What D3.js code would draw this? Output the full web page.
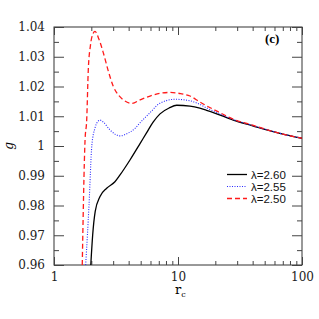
<!DOCTYPE html>
<html>
<head>
<meta charset="utf-8">
<script src="https://cdn.jsdelivr.net/npm/d3@7"></script>
<style>
  body { margin: 0; background: #fff; }
  #figure { width: 319px; height: 319px; }
  .tk text { font-family: "DejaVu Serif", serif; font-size: 12px; fill: #222; }
  .tk path { display: none; }
  .tk line { stroke: #444; }
</style>
</head>
<body>
<div id="figure"></div>
<script>
// curves: r_c vs g for three lambda values
var rBlack = [1.98, 2.05, 2.15, 2.35, 2.66, 3.10, 3.41, 4.10, 4.94, 5.59, 6.3, 7.16, 8.5, 9.76, 12.5, 15, 17, 20, 27.9, 40, 51.9, 70, 100];
var gBlack = [0.960, 0.970, 0.978, 0.983, 0.9858, 0.988, 0.9903, 0.9953, 1.0008, 1.0045, 1.0080, 1.0108, 1.0128, 1.0137, 1.0134, 1.0127, 1.0120, 1.0110, 1.0087, 1.0068, 1.0054, 1.0040, 1.0026];

var rBlue = [1.80, 1.86, 1.915, 2.02, 2.14, 2.25, 2.35, 2.5, 2.83, 3.1, 3.41, 3.8, 4.50, 4.94, 5.95, 7.16, 9.47, 12.5, 15, 17, 20, 27.9, 40, 51.9, 70, 100];
var gBlue = [0.960, 0.970, 0.980, 1.0003, 1.006, 1.0082, 1.0087, 1.0080, 1.0054, 1.0040, 1.0034, 1.0040, 1.0059, 1.0078, 1.0112, 1.0144, 1.0157, 1.0152, 1.0140, 1.0128, 1.0115, 1.0089, 1.0069, 1.0055, 1.0040, 1.0026];

var rRed = [1.69, 1.78, 1.835, 1.89, 1.97, 2.05, 2.14, 2.3, 2.50, 2.75, 3.01, 3.3, 3.62, 4.24, 4.94, 5.95, 7.16, 8.6, 10.5, 12.5, 15, 17, 20, 27.9, 40, 51.9, 70, 100];
var gRed = [0.960, 1.002, 1.0087, 1.0255, 1.034, 1.0375, 1.0385, 1.036, 1.0313, 1.025, 1.020, 1.0172, 1.0155, 1.0143, 1.0155, 1.0168, 1.0177, 1.0180, 1.0176, 1.0168, 1.0148, 1.0135, 1.0120, 1.0090, 1.0070, 1.0055, 1.0040, 1.0026];

var legendLabels = ["\u03bb=2.60", "\u03bb=2.55", "\u03bb=2.50"];
var xMajor = [1, 10, 100];
var xMinor = [2, 3, 4, 5, 6, 7, 8, 9, 20, 30, 40, 50, 60, 70, 80, 90];
var yMajor = [0.96, 0.97, 0.98, 0.99, 1, 1.01, 1.02, 1.03, 1.04];
var yMinor = [0.965, 0.975, 0.985, 0.995, 1.005, 1.015, 1.025, 1.035];

var width = 319, height = 319;
var margin = { top: 27, right: 17, bottom: 54, left: 54 };

var svg = d3.select('#figure')
    .append("svg")
    .attr("width", width)
    .attr("height", height)

var x = d3.scaleLog().domain([1, 100]).range([margin.left, width - margin.right]);
var y = d3.scaleLinear().domain([0.96, 1.04]).range([height - margin.bottom, margin.top]);

svg.append("clipPath").attr("id", "plotclip")
    .append("rect")
    .attr("x", margin.left).attr("y", margin.top)
    .attr("width", x(100) - x(1)).attr("height", y(0.96) - y(1.04))

// frame
svg.append("rect")
    .attr("x", margin.left).attr("y", margin.top)
    .attr("width", x(100) - x(1)).attr("height", y(0.96) - y(1.04))
    .attr("fill", "none").attr("stroke", "#333").attr("stroke-width", 1)

// ticks, all pointing inward
var x0 = y(0.96), x1 = y(1.04);
svg.append("g").attr("class", "tk").attr("transform", "translate(0," + x0 + ")")
    .call(d3.axisBottom(x).tickValues(xMajor).tickSize(-8).tickPadding(7).tickFormat(d3.format("d")))
svg.append("g").attr("class", "tk").attr("transform", "translate(0," + x0 + ")")
    .call(d3.axisBottom(x).tickValues(xMinor).tickSize(-4).tickFormat(""))
svg.append("g").attr("class", "tk").attr("transform", "translate(0," + x1 + ")")
    .call(d3.axisTop(x).tickValues(xMajor).tickSize(-8).tickFormat(""))
svg.append("g").attr("class", "tk").attr("transform", "translate(0," + x1 + ")")
    .call(d3.axisTop(x).tickValues(xMinor).tickSize(-4).tickFormat(""))

svg.append("g").attr("class", "tk").attr("transform", "translate(" + x(1) + ",0)")
    .call(d3.axisLeft(y).tickValues(yMajor).tickSize(-10).tickPadding(9).tickFormat(function (d) { return d3.format("")(+d.toFixed(2)) }))
svg.append("g").attr("class", "tk").attr("transform", "translate(" + x(1) + ",0)")
    .call(d3.axisLeft(y).tickValues(yMinor).tickSize(-5).tickFormat(""))
svg.append("g").attr("class", "tk").attr("transform", "translate(" + x(100) + ",0)")
    .call(d3.axisRight(y).tickValues(yMajor).tickSize(-10).tickFormat(""))
svg.append("g").attr("class", "tk").attr("transform", "translate(" + x(100) + ",0)")
    .call(d3.axisRight(y).tickValues(yMinor).tickSize(-5).tickFormat(""))

// curves
var series = [
    { r: rBlack, g: gBlack, color: "#000", dash: null, w: 1.3 },
    { r: rBlue, g: gBlue, color: "#2a2aff", dash: "1,1.5", w: 1.1 },
    { r: rRed, g: gRed, color: "#ff1a1a", dash: "5,3", w: 1.3 }
];

var line = d3.line()
    .x(function (d) { return x(d[0]) })
    .y(function (d) { return y(d[1]) })
    .curve(d3.curveMonotoneX)

svg.append("g").attr("clip-path", "url(#plotclip)")
    .selectAll("path")
    .data(series)
    .enter()
    .append("path")
    .attr("d", function (s) { return line(d3.zip(s.r, s.g)) })
    .attr("fill", "none")
    .attr("stroke", function (s) { return s.color })
    .attr("stroke-width", function (s) { return s.w })
    .attr("stroke-dasharray", function (s) { return s.dash })

// legend
var leg = svg.append("g").selectAll("g")
    .data(series)
    .enter()
    .append("g")
    .attr("transform", function (d, i) { return "translate(0," + (174.5 + i * 12) + ")" })
leg.append("line")
    .attr("x1", 227).attr("x2", 247).attr("y1", 0).attr("y2", 0)
    .attr("stroke", function (s) { return s.color })
    .attr("stroke-width", function (s) { return s.w })
    .attr("stroke-dasharray", function (s) { return s.dash })
leg.append("text")
    .attr("x", 251).attr("y", 4)
    .attr("font-family", "Liberation Sans, Arial, sans-serif")
    .attr("font-size", "11.5px")
    .attr("fill", "#111")
    .text(function (d, i) { return legendLabels[i] })

// panel tag
svg.append("text")
    .attr("x", 265).attr("y", 43)
    .attr("font-family", "Liberation Serif, serif")
    .attr("font-weight", "bold")
    .attr("font-size", "13px")
    .text("(c)")

// axis titles
svg.append("text")
    .attr("transform", "translate(13,146) rotate(-90)")
    .attr("text-anchor", "middle")
    .attr("font-family", "DejaVu Serif, serif")
    .attr("font-style", "italic")
    .attr("font-size", "12px")
    .text("g")

var xt = svg.append("text")
    .attr("x", 175).attr("y", 294)
    .attr("font-family", "DejaVu Serif, serif")
    .attr("font-size", "13px")
xt.append("tspan").text("r")
xt.append("tspan").attr("dy", 3).attr("font-size", "8px").text("c")
</script>
</body>
</html>
